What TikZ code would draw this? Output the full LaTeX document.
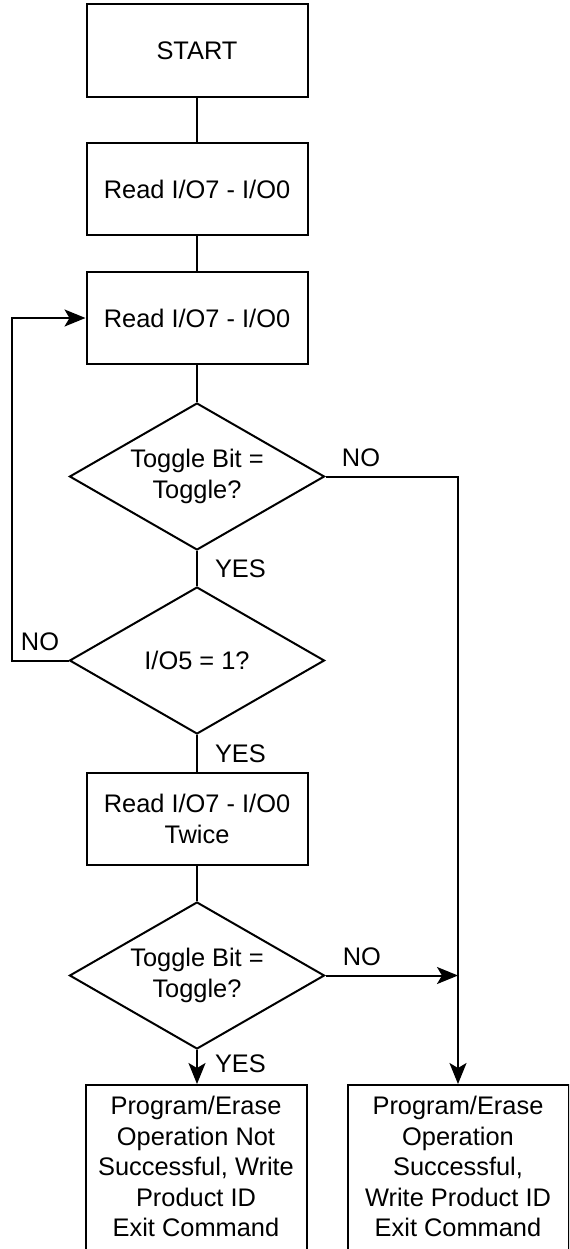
\documentclass[tikz,border=0pt]{standalone}
\usepackage{fontspec}
\setmainfont{Liberation Sans}
\usetikzlibrary{positioning,shapes.geometric,arrows.meta}
\tikzset{
    stepbox/.style={draw, line width=1pt, minimum width=110.5pt, minimum height=46pt, align=center},
    decision/.style={draw, line width=1pt, diamond, aspect=1.73, inner sep=0pt, minimum width=127.5pt, minimum height=73.5pt, align=center},
    endbox/.style={draw, line width=1pt, minimum width=110.5pt, minimum height=100pt, anchor=north},
    lbl/.style={inner xsep=8.5pt, inner ysep=4.2pt}
}
\begin{document}
\begin{tikzpicture}[x=0.5pt, y=-0.5pt, >={Stealth[length=10.5pt, width=8.5pt, inset=2.5pt]}, line width=1pt,
    every node/.append style={font=\fontsize{12.7}{15.2}\selectfont}]
    \path[use as bounding box, clip] (0,0) rectangle (569,1249);

    % Main column
    \node[stepbox, minimum height=46.5pt] (start) at (197,50.5) {START};
    \node[stepbox, below=22pt of start] (read1) {Read I/O7 - I/O0};
    \node[stepbox, below=17.5pt of read1] (read2) {Read I/O7 - I/O0};
    \node[decision, below=18.5pt of read2] (toggle1) {Toggle Bit =\\Toggle?};
    \node[decision, below=17.5pt of toggle1] (io5) {I/O5 = 1?};
    \node[stepbox, below=18.5pt of io5] (read3) {Read I/O7 - I/O0\\Twice};
    \node[decision, below=17.5pt of read3] (toggle2) {Toggle Bit =\\Toggle?};

    % Result boxes
    \node[endbox] (fail) at (196,1084) {};
    \node[endbox, right=19.5pt of fail] (pass) {};
    \node[inner sep=0pt, align=center, below=5.75pt of fail.north] (failtext) {Program/Erase\\Operation Not\\Successful, Write\\Product ID\\Exit Command};
    \node[inner sep=0pt, align=center, below=5.75pt of pass.north] (passtext) {Program/Erase\\Operation\\Successful,\\Write Product ID\\Exit Command};

    % Straight connectors
    \draw (start) -- (read1);
    \draw (read1) -- (read2);
    \draw (read2) -- (toggle1);
    \draw (toggle1) -- node[lbl, midway, right] {YES} (io5);
    \draw (io5) -- node[lbl, midway, right] {YES} (read3);
    \draw (read3) -- (toggle2);
    \draw[->] (toggle2.south) -- node[lbl, pos=0.4, right] {YES} (toggle2.south |- fail.north);

    % Loop back and NO branches
    \draw[->] (io5.west) -- node[lbl, midway, above] {NO} ++(-57,0) |- (read2.west);
    \draw[->] (toggle1.east) -| node[lbl, pos=0.134, above] {NO} (pass.north);
    \draw[->] (toggle2.east) -- node[lbl, pos=0.275, above] {NO} (toggle2.east -| pass.north);
\end{tikzpicture}
\end{document}
